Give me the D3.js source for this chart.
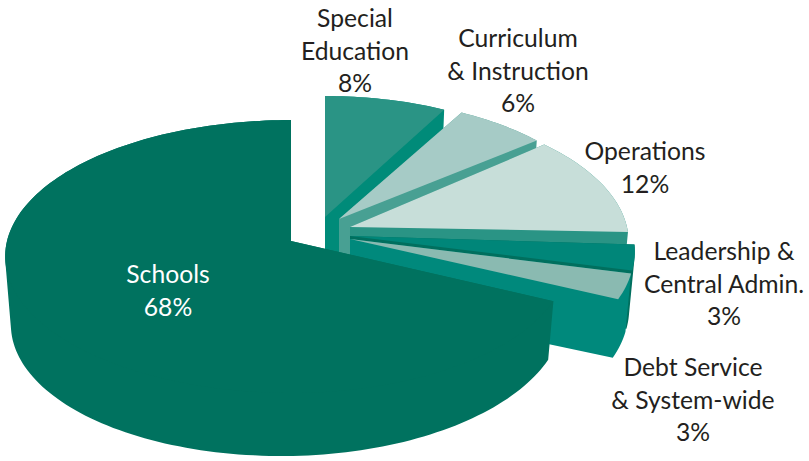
<!DOCTYPE html>
<html><head><meta charset="utf-8">
<script src="https://cdn.jsdelivr.net/npm/d3@7"></script>
<style>html,body{margin:0;padding:0;background:#fff}svg{display:block}text{font-family:Lato,"Open Sans",sans-serif;font-size:24.7px}</style>
</head><body><svg id="c" width="809" height="461"></svg>
<script>
// data
const categories = ["Special Education","Curriculum & Instruction","Operations","Leadership & Central Admin.","Debt Service & System-wide","Schools"];
const shares = [8,6,12,3,3,68];
const labelLines = [["Special","Education","8%"],["Curriculum","& Instruction","6%"],["Operations","12%"],["Leadership &","Central Admin.","3%"],["Debt Service","& System-wide","3%"],["Schools","68%"]];
// styles
const topColors  = ["#2a9485","#a6cbc6","#c7ded9","#008679","#8abab1","#00725f"];
const wallColors = ["#008b79","#48a093","#2a9485","#006f5e","#00897c","#00725f"];
const textColors = ["#231f20","#231f20","#231f20","#231f20","#231f20","#ffffff"];
// layout
const apexX = [325,339,350,350,350,291];
const apexY = [217,219,227,236,239,241];
const radiusRight = [272,271,277,283,282,276];
const radiusLeft = [272,271,277,283,282,284];
const angleShift = [0,1,-1.5,0,0,0];
const labelX = [355,518,645,724,693,168];
const labelY = [27,47,160,260,376,283];
const lineHeight = 32.5;
const persp = 0.1136, scaleY = 134.7;

const svg = d3.select("#c");
const pie = d3.pie().sort(null).value(d=>d);
const arcs = pie(shares);
const line = d3.line();

function pt(i,a,r,lower){
  const b=a+angleShift[i]*Math.PI/180;
  const u=Math.sin(b)*r, v=Math.cos(b)*r, w=1+persp*v;
  const rx=u<0?radiusLeft[i]:radiusRight[i];
  let x=apexX[i]+rx*u/w, y=apexY[i]-scaleY*v/w;
  if(lower){ const d=63-5*u; y+=d; x=apexX[i]+(x-apexX[i])*0.98; }
  return [x,y];
}
function rim(i,arc,lower){
  const n=Math.max(4,Math.ceil((arc.endAngle-arc.startAngle)*40));
  return d3.range(n+1).map(k=>pt(i,arc.startAngle+(arc.endAngle-arc.startAngle)*k/n,1,lower));
}
// every polygon wound the same way, so one path can hold them all without holes or seams
const wound = p => d3.polygonArea(p)<0 ? p.slice().reverse() : p;
arcs.forEach((arc,i)=>{
  const g=svg.append("g").attr("class","slice");
  const top=rim(i,arc,false), bot=rim(i,arc,true);
  const apex=pt(i,0,0,false), apexLow=pt(i,0,0,true);
  const solid=[[apex].concat(top),[apexLow].concat(bot),[apex,top[top.length-1],bot[bot.length-1],apexLow]];
  d3.range(top.length-1).forEach(k=>solid.push([top[k],top[k+1],bot[k+1],bot[k]]));
  g.append("path").attr("d",solid.map(p=>line(wound(p))+"Z").join("")).attr("fill",wallColors[i]);
  g.append("path").attr("d",line([apex].concat(top))+"Z").attr("fill",topColors[i]);
});
labelLines.forEach((lines,i)=>{
  const t=svg.append("text").attr("text-anchor","middle").attr("fill",textColors[i]);
  lines.forEach((s,k)=>t.append("tspan").attr("x",labelX[i]).attr("y",labelY[i]+k*lineHeight).text(s));
});
</script></body></html>
